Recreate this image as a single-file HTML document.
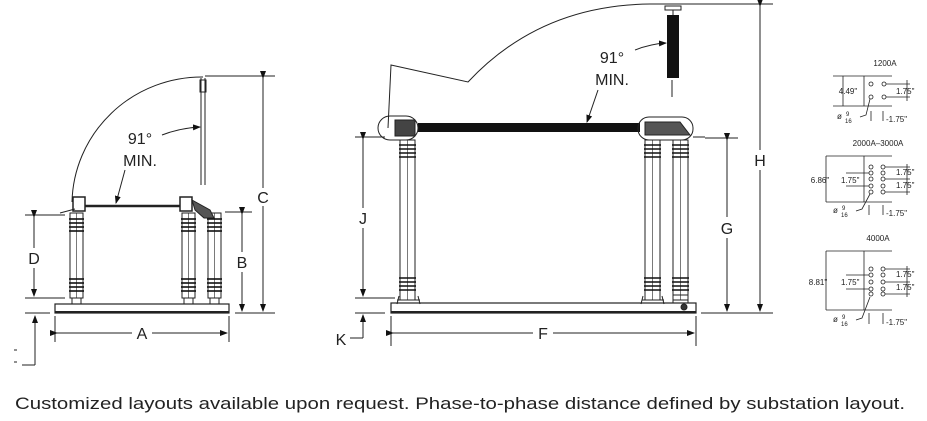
<!DOCTYPE html>
<html><head><meta charset="utf-8"><style>
html,body{margin:0;padding:0;background:#fff;}
svg{display:block}
text{font-family:"Liberation Sans",sans-serif;fill:#222}
</style></head><body>
<svg width="927" height="421" viewBox="0 0 927 421" xmlns="http://www.w3.org/2000/svg">
<defs>
<marker id="ar" markerWidth="8" markerHeight="6" refX="7" refY="3" orient="auto" markerUnits="userSpaceOnUse"><path d="M0,0 L8,3 L0,6 z" fill="#111"/></marker>
<g id="ins">
<rect x="0" y="0" width="13" height="85" fill="none" stroke="#222" stroke-width="1"/>
<line x1="6.5" y1="0" x2="6.5" y2="85" stroke="#222" stroke-width="0.6"/>
<g stroke="#111" stroke-width="1.6"><line x1="-1" y1="6" x2="14" y2="6"/><line x1="-1" y1="10" x2="14" y2="10"/><line x1="-1" y1="14" x2="14" y2="14"/><line x1="-1" y1="18" x2="14" y2="18"/>
<line x1="-1" y1="66" x2="14" y2="66"/><line x1="-1" y1="70" x2="14" y2="70"/><line x1="-1" y1="74" x2="14" y2="74"/><line x1="-1" y1="78" x2="14" y2="78"/></g>
</g>
<g id="tall">
<rect x="0" y="0" width="15" height="160" fill="none" stroke="#222" stroke-width="1"/>
<line x1="7.5" y1="0" x2="7.5" y2="160" stroke="#222" stroke-width="0.6"/>
<g stroke="#111" stroke-width="1.5"><line x1="-1" y1="5" x2="16" y2="5"/><line x1="-1" y1="9" x2="16" y2="9"/><line x1="-1" y1="13" x2="16" y2="13"/><line x1="-1" y1="17" x2="16" y2="17"/>
<line x1="-1" y1="138" x2="16" y2="138"/><line x1="-1" y1="142" x2="16" y2="142"/><line x1="-1" y1="146" x2="16" y2="146"/><line x1="-1" y1="150" x2="16" y2="150"/></g>
</g>
</defs>
<g stroke="#222" stroke-width="1" fill="none">
<!-- LEFT VIEW -->
<rect x="55" y="304" width="174" height="9" stroke-width="1.2"/>
<line x1="55" y1="312" x2="229" y2="312" stroke-width="2"/>
<use href="#ins" x="70" y="213"/><use href="#ins" x="182" y="213"/><use href="#ins" x="208" y="213"/>
<rect x="72" y="298" width="9" height="6"/><rect x="184" y="298" width="9" height="6"/><rect x="210" y="298" width="9" height="6"/>
<rect x="73" y="197" width="12" height="14" stroke-width="1.5"/>
<rect x="180" y="197" width="12" height="14" stroke-width="1.5"/>
<path d="M192,200 L210,210 L214,218 L204,218 L195,210 z" fill="#555"/>
<line x1="85" y1="206" x2="180" y2="206" stroke-width="2.5"/>
<path d="M60,213 L75,209"/>
<path d="M72,202 A130,128 0 0 1 203,77"/>
<line x1="201" y1="78" x2="201" y2="185"/><line x1="205" y1="78" x2="205" y2="185"/>
<rect x="200" y="80" width="6" height="12"/>
<path d="M162,135 Q180,128 200,127" marker-end="url(#ar)"/>
<path d="M125,170 L116,203" marker-end="url(#ar)"/>
<!-- dims left -->
<line x1="205" y1="76" x2="275" y2="76"/><line x1="235" y1="313" x2="275" y2="313"/>
<line x1="263" y1="78" x2="263" y2="188" marker-start="url(#ar)"/><line x1="263" y1="206" x2="263" y2="311" marker-end="url(#ar)"/>
<line x1="225" y1="212" x2="252" y2="212"/>
<line x1="242" y1="214" x2="242" y2="252" marker-start="url(#ar)"/><line x1="242" y1="272" x2="242" y2="311" marker-end="url(#ar)"/>
<line x1="25" y1="215" x2="65" y2="215"/><line x1="25" y1="298" x2="65" y2="298"/>
<line x1="34" y1="217" x2="34" y2="248" marker-start="url(#ar)"/><line x1="34" y1="268" x2="34" y2="296" marker-end="url(#ar)"/>
<line x1="55" y1="316" x2="55" y2="342"/><line x1="229" y1="316" x2="229" y2="342"/>
<line x1="57" y1="333" x2="132" y2="333" marker-start="url(#ar)"/><line x1="152" y1="333" x2="227" y2="333" marker-end="url(#ar)"/>
<line x1="25" y1="313" x2="50" y2="313"/>
<line x1="35" y1="365" x2="35" y2="316" marker-end="url(#ar)"/><line x1="22" y1="365" x2="35" y2="365"/>
<line x1="14" y1="350" x2="17" y2="350"/><line x1="14" y1="362" x2="17" y2="362"/>
<!-- MIDDLE VIEW -->
<rect x="391" y="303" width="305" height="10" stroke-width="1.2"/>
<line x1="391" y1="312" x2="696" y2="312" stroke-width="2"/>
<use href="#tall" x="400" y="140"/><use href="#tall" x="645" y="140"/><use href="#tall" x="673" y="140"/>
<path d="M397,300 L420,300 M399,296 L397,304 M418,296 L420,304 M642,300 L664,300 M643,296 L641,304 M662,296 L664,304"/>
<rect x="673" y="295" width="15" height="8"/>
<circle cx="684" cy="307" r="3" fill="#333"/>
<rect x="418" y="123" width="222" height="9" fill="#111" stroke="none"/>
<rect x="378" y="116" width="40" height="24" rx="12"/>
<rect x="395" y="120" width="20" height="16" fill="#444"/>
<rect x="638" y="117" width="55" height="23" rx="11"/>
<path d="M645,122 L680,122 L690,135 L645,135 z" fill="#555"/>
<line x1="693" y1="137" x2="705" y2="137"/>
<path d="M388,128 L391,65 L468,82 Q540,5 650,4"/>
<rect x="667" y="15" width="12" height="63" fill="#111" stroke="none"/>
<rect x="665" y="6" width="16" height="4"/><line x1="673" y1="10" x2="673" y2="15"/>
<line x1="672" y1="80" x2="672" y2="97"/>
<path d="M635,50 Q650,44 666,43" marker-end="url(#ar)"/>
<path d="M598,90 L587,122" marker-end="url(#ar)"/>
<!-- dims mid -->
<line x1="650" y1="4" x2="773" y2="4"/><line x1="701" y1="313" x2="773" y2="313"/>
<line x1="760" y1="6" x2="760" y2="150" marker-start="url(#ar)"/><line x1="760" y1="170" x2="760" y2="311" marker-end="url(#ar)"/>
<line x1="705" y1="138" x2="738" y2="138"/>
<line x1="727" y1="140" x2="727" y2="217" marker-start="url(#ar)"/><line x1="727" y1="238" x2="727" y2="311" marker-end="url(#ar)"/>
<line x1="355" y1="137" x2="385" y2="137"/><line x1="355" y1="298" x2="395" y2="298"/>
<line x1="363" y1="139" x2="363" y2="208" marker-start="url(#ar)"/><line x1="363" y1="228" x2="363" y2="296" marker-end="url(#ar)"/>
<line x1="355" y1="313" x2="385" y2="313"/>
<line x1="363" y1="338" x2="363" y2="315" marker-end="url(#ar)"/><line x1="350" y1="338" x2="363" y2="338"/>
<line x1="391" y1="316" x2="391" y2="346"/><line x1="696" y1="316" x2="696" y2="346"/>
<line x1="393" y1="333" x2="533" y2="333" marker-start="url(#ar)"/><line x1="553" y1="333" x2="694" y2="333" marker-end="url(#ar)"/>
<!-- TABLES -->
<g stroke-width="0.8">
<line x1="864" y1="76" x2="864" y2="106"/><line x1="833" y1="76" x2="892" y2="76"/><line x1="833" y1="106" x2="892" y2="106"/>
<line x1="843" y1="76" x2="843" y2="106"/>
<circle cx="871" cy="84" r="2"/><circle cx="884" cy="84" r="2"/><circle cx="871" cy="97" r="2"/><circle cx="884" cy="97" r="2"/>
<line x1="886" y1="84" x2="910" y2="84"/><line x1="886" y1="97" x2="910" y2="97"/><line x1="907" y1="80" x2="907" y2="101"/>
<line x1="871" y1="111" x2="871" y2="121"/><line x1="883" y1="111" x2="883" y2="121"/>
<path d="M860,117 L866,115 L870,99"/>

<line x1="864" y1="156" x2="864" y2="202"/><line x1="826" y1="156" x2="892" y2="156"/><line x1="826" y1="202" x2="892" y2="202"/>
<line x1="826" y1="156" x2="826" y2="202"/>
<circle cx="871" cy="167" r="2"/><circle cx="883" cy="167" r="2"/><circle cx="871" cy="173" r="2"/><circle cx="883" cy="173" r="2"/><circle cx="871" cy="179" r="2"/><circle cx="883" cy="179" r="2"/><circle cx="871" cy="186" r="2"/><circle cx="883" cy="186" r="2"/><circle cx="871" cy="192" r="2"/><circle cx="883" cy="192" r="2"/>
<line x1="885" y1="167" x2="910" y2="167"/><line x1="885" y1="179" x2="910" y2="179"/><line x1="885" y1="192" x2="910" y2="192"/><line x1="907" y1="164" x2="907" y2="195"/>
<line x1="846" y1="173" x2="869" y2="173"/><line x1="846" y1="186" x2="869" y2="186"/>
<line x1="869" y1="205" x2="869" y2="215"/><line x1="883" y1="205" x2="883" y2="215"/>
<path d="M856,211 L862,209 L870,194"/>

<line x1="864" y1="251" x2="864" y2="310"/><line x1="826" y1="251" x2="892" y2="251"/><line x1="826" y1="310" x2="892" y2="310"/>
<line x1="826" y1="251" x2="826" y2="310"/>
<circle cx="871" cy="269" r="2"/><circle cx="883" cy="269" r="2"/><circle cx="871" cy="275" r="2"/><circle cx="883" cy="275" r="2"/><circle cx="871" cy="282" r="2"/><circle cx="883" cy="282" r="2"/><circle cx="871" cy="289" r="2"/><circle cx="883" cy="289" r="2"/><circle cx="871" cy="294" r="2"/><circle cx="883" cy="294" r="2"/>
<line x1="885" y1="269" x2="910" y2="269"/><line x1="885" y1="282" x2="910" y2="282"/><line x1="885" y1="294" x2="910" y2="294"/><line x1="907" y1="266" x2="907" y2="297"/>
<line x1="846" y1="275" x2="869" y2="275"/><line x1="846" y1="289" x2="869" y2="289"/>
<line x1="869" y1="313" x2="869" y2="324"/><line x1="883" y1="313" x2="883" y2="324"/>
<path d="M856,320 L862,318 L870,297"/>
</g>
</g>
<!-- labels -->
<g font-size="16" fill="#333">
<text x="140" y="144" text-anchor="middle">91°</text>
<text x="140" y="166" text-anchor="middle">MIN.</text>
<text x="263" y="203" text-anchor="middle">C</text>
<text x="242" y="268" text-anchor="middle">B</text>
<text x="34" y="264" text-anchor="middle">D</text>
<text x="142" y="339" text-anchor="middle">A</text>
<text x="612" y="63" text-anchor="middle">91°</text>
<text x="612" y="85" text-anchor="middle">MIN.</text>
<text x="760" y="166" text-anchor="middle">H</text>
<text x="727" y="234" text-anchor="middle">G</text>
<text x="363" y="224" text-anchor="middle">J</text>
<text x="341" y="345" text-anchor="middle">K</text>
<text x="543" y="339" text-anchor="middle">F</text>
</g>
<g font-size="8" fill="#333">
<text x="885" y="66" text-anchor="middle">1200A</text>
<text x="848" y="94" text-anchor="middle">4.49"</text>
<text x="896" y="94">1.75"</text>
<text x="837" y="119">ø</text><text x="846" y="116" font-size="6">9</text><text x="845" y="123" font-size="6">16</text>
<text x="886" y="122">-1.75"</text>
<text x="878" y="146" text-anchor="middle">2000A–3000A</text>
<text x="820" y="183" text-anchor="middle">6.86"</text>
<text x="841" y="183">1.75"</text>
<text x="896" y="175">1.75"</text><text x="896" y="188">1.75"</text>
<text x="833" y="213">ø</text><text x="842" y="210" font-size="6">9</text><text x="841" y="217" font-size="6">16</text>
<text x="886" y="216">-1.75"</text>
<text x="878" y="241" text-anchor="middle">4000A</text>
<text x="818" y="285" text-anchor="middle">8.81"</text>
<text x="841" y="285">1.75"</text>
<text x="896" y="277">1.75"</text><text x="896" y="290">1.75"</text>
<text x="833" y="322">ø</text><text x="842" y="319" font-size="6">9</text><text x="841" y="326" font-size="6">16</text>
<text x="886" y="325">-1.75"</text>
</g>
<text x="15" y="409" font-size="17" fill="#111" textLength="890" lengthAdjust="spacingAndGlyphs">Customized layouts available upon request. Phase-to-phase distance defined by substation layout.</text>
</svg>
</body></html>
